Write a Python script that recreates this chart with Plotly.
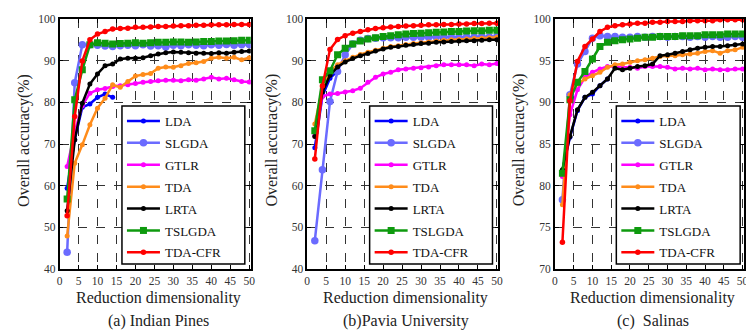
import plotly.graph_objects as go

# ---------------- data ----------------
DIMS = [2, 4, 6, 8, 10, 12, 14, 16, 18, 20, 22, 24, 26, 28, 30, 32, 34, 36, 38, 40, 42, 44, 46, 48, 50]
LDA_DIMS_IP = [2, 4, 6, 8, 10, 12, 14]
LDA_DIMS_PU = [2, 4, 6, 8]
LDA_DIMS_SA = [2, 4, 6, 8, 10, 12, 14]

METHODS = ["LDA", "SLGDA", "GTLR", "TDA", "LRTA", "TSLGDA", "TDA-CFR"]

# (a) Indian Pines
IP_LDA = [59.4, 71.0, 78.8, 79.6, 81.2, 82.0, 81.2]
IP_SLGDA = [44.0, 84.7, 93.8, 93.8, 93.7, 93.5, 93.4, 93.6, 93.7, 93.6, 93.8, 93.5, 93.6,
            93.3, 93.7, 93.6, 93.8, 93.7, 93.6, 93.8, 93.7, 93.9, 93.7, 93.8, 93.9]
IP_GTLR = [64.6, 73.0, 79.2, 82.2, 83.0, 83.3, 83.8, 84.0, 84.2, 84.5, 84.8, 85.0, 85.2,
           85.3, 85.3, 85.2, 85.4, 85.3, 85.6, 86.0, 85.6, 85.8, 85.4, 85.0, 84.9]
IP_TDA = [47.9, 65.4, 69.8, 74.6, 78.6, 81.0, 84.2, 83.6, 85.0, 86.3, 86.7, 86.9, 88.2,
          88.5, 88.4, 88.8, 89.3, 89.5, 89.8, 90.6, 90.8, 90.6, 90.8, 90.2, 90.7]
IP_LRTA = [54.0, 71.0, 79.8, 84.4, 86.8, 88.8, 89.2, 90.4, 90.6, 90.6, 90.7, 91.2, 91.6,
           91.9, 92.1, 92.0, 91.9, 91.8, 91.8, 91.7, 91.9, 91.8, 92.0, 92.2, 92.3]
IP_TSLGDA = [56.8, 80.6, 87.8, 93.8, 94.3, 94.2, 94.0, 94.1, 94.2, 94.3, 94.2, 94.3, 94.4,
             94.4, 94.5, 94.5, 94.4, 94.5, 94.6, 94.6, 94.7, 94.7, 94.8, 94.9, 94.9]
IP_TDACFR = [52.8, 76.6, 89.9, 95.0, 96.4, 97.0, 97.6, 97.7, 97.8, 98.0, 98.0, 98.1, 98.2,
             98.2, 98.3, 98.4, 98.4, 98.5, 98.5, 98.6, 98.6, 98.6, 98.7, 98.7, 98.7]

# (b) Pavia University
PU_LDA = [69.1, 81.5, 85.8, 87.5]
PU_SLGDA = [46.8, 63.8, 80.2, 87.4, 91.4, 94.0, 94.9, 95.3, 95.4, 95.5, 95.5, 95.5, 95.6,
            95.6, 95.6, 95.6, 95.7, 95.7, 95.6, 95.6, 95.7, 95.7, 95.8, 95.7, 95.8]
PU_GTLR = [72.0, 81.4, 82.0, 82.1, 82.5, 82.8, 83.4, 84.8, 86.0, 86.8, 87.2, 87.8, 88.0,
           88.2, 88.3, 88.5, 88.8, 89.0, 89.0, 89.0, 89.0, 88.8, 89.2, 89.0, 89.3]
PU_TDA = [74.8, 83.5, 87.5, 89.0, 90.0, 90.8, 91.5, 92.0, 92.5, 93.0, 93.4, 93.6, 93.9,
          94.1, 94.3, 94.5, 94.7, 94.9, 95.0, 95.1, 95.2, 95.3, 95.4, 95.5, 95.6]
PU_LRTA = [71.8, 82.5, 86.5, 88.5, 89.7, 90.5, 91.2, 91.7, 92.3, 92.8, 93.2, 93.4, 93.7,
           93.9, 94.1, 94.2, 94.4, 94.5, 94.6, 94.7, 94.8, 94.8, 94.9, 95.0, 95.0]
PU_TSLGDA = [73.2, 85.4, 87.6, 91.4, 93.0, 94.0, 94.7, 95.2, 95.5, 95.8, 96.0, 96.2, 96.4,
             96.5, 96.6, 96.7, 96.8, 96.9, 97.0, 97.0, 97.1, 97.2, 97.2, 97.3, 97.3]
PU_TDACFR = [66.4, 83.9, 92.7, 95.1, 96.0, 96.6, 97.0, 97.4, 97.7, 97.9, 98.1, 98.2, 98.3,
             98.4, 98.5, 98.6, 98.6, 98.7, 98.7, 98.8, 98.8, 98.9, 98.9, 99.0, 99.0]

# (c) Salinas
SA_LDA = [81.8, 85.8, 89.0, 90.6, 91.0, 92.0, 92.8]
SA_SLGDA = [78.3, 90.9, 94.6, 96.1, 97.7, 98.0, 97.9, 97.9, 97.8, 97.8, 97.9, 97.8, 97.9,
            97.9, 97.8, 97.9, 97.9, 97.8, 97.9, 97.8, 97.9, 97.8, 97.8, 97.9, 97.8]
SA_GTLR = [81.1, 88.5, 91.5, 93.0, 93.6, 94.0, 94.3, 94.3, 94.2, 94.2, 94.1, 94.3, 94.3,
           94.3, 94.2, 94.0, 94.1, 94.0, 94.1, 93.9, 94.0, 93.9, 93.9, 94.0, 94.0]
SA_TDA = [77.7, 90.9, 92.2, 92.8, 93.2, 93.6, 94.2, 94.5, 94.6, 94.8, 95.0, 95.1, 95.3,
          95.5, 95.6, 95.6, 95.7, 95.8, 95.9, 96.1, 96.2, 95.9, 96.2, 96.3, 96.6]
SA_LRTA = [81.9, 85.9, 89.1, 90.6, 91.2, 92.0, 92.8, 94.1, 93.9, 94.1, 94.3, 94.4, 94.6,
           95.6, 95.7, 95.9, 96.1, 96.3, 96.5, 96.6, 96.7, 96.7, 96.8, 96.9, 97.0]
SA_TSLGDA = [81.5, 90.3, 92.4, 93.7, 95.2, 96.7, 97.2, 97.4, 97.5, 97.6, 97.7, 97.8, 97.8,
             97.9, 97.9, 97.9, 98.0, 98.0, 98.0, 98.1, 98.1, 98.1, 98.2, 98.2, 98.2]
SA_TDACFR = [73.2, 90.2, 94.9, 96.7, 97.6, 98.5, 99.0, 99.2, 99.3, 99.4, 99.5, 99.5, 99.6,
             99.6, 99.7, 99.7, 99.7, 99.8, 99.8, 99.8, 99.8, 99.9, 99.9, 99.9, 99.9]

X_TICKS = [0, 5, 10, 15, 20, 25, 30, 35, 40, 45, 50]
Y_TICKS_AB = [40, 50, 60, 70, 80, 90, 100]
Y_TICKS_C = [70, 75, 80, 85, 90, 95, 100]

CAPTIONS = ["(a) Indian Pines", "(b)Pavia University", "(c)  Salinas"]
X_TITLE = "Reduction dimensionality"
Y_TITLE = "Overall accuracy(%)"

# ---------------- styles ----------------
COLORS = {"LDA": "#0000FF", "SLGDA": "#6B6BFF", "GTLR": "#FF00FF", "TDA": "#FF8C1A",
          "LRTA": "#000000", "TSLGDA": "#0E9A0E", "TDA-CFR": "#FF0000"}
SYMBOLS = {"LDA": "circle", "SLGDA": "circle", "GTLR": "circle", "TDA": "circle",
           "LRTA": "circle", "TSLGDA": "square", "TDA-CFR": "circle"}
MSIZE = {"LDA": 5, "SLGDA": 7.5, "GTLR": 5, "TDA": 5, "LRTA": 5, "TSLGDA": 7, "TDA-CFR": 5.5}

FONT = "Liberation Serif"

panels = [
    (LDA_DIMS_IP, [IP_LDA, IP_SLGDA, IP_GTLR, IP_TDA, IP_LRTA, IP_TSLGDA, IP_TDACFR]),
    (LDA_DIMS_PU, [PU_LDA, PU_SLGDA, PU_GTLR, PU_TDA, PU_LRTA, PU_TSLGDA, PU_TDACFR]),
    (LDA_DIMS_SA, [SA_LDA, SA_SLGDA, SA_GTLR, SA_TDA, SA_LRTA, SA_TSLGDA, SA_TDACFR]),
]

# page has an 8px body margin: work in page pixels, subtract offset
OFF = 8
W, H = 754, 332
PLOT_TOP, PLOT_BOT = 19 - OFF, 269 - OFF
PH = PLOT_BOT - PLOT_TOP
X_DOMAINS = [(57 - OFF, 250 - OFF), (307 - OFF, 500 - OFF), (557 - OFF, 748 - OFF)]
LEGEND_BOX = [(120 - OFF, 244 - OFF), (370 - OFF, 494 - OFF), (619 - OFF, 744 - OFF)]
LEGEND_TOP, LEGEND_BOTTOM = 106 - OFF, 264 - OFF


def py(px):  # page pixel -> paper y
    return 1 - (px - PLOT_TOP) / PH


fig = go.Figure()
for p, (lda_dims, series) in enumerate(panels):
    sfx = "" if p == 0 else str(p + 1)
    for name, vals in zip(METHODS, series):
        xs = lda_dims if name == "LDA" else DIMS
        fig.add_trace(go.Scatter(
            x=xs, y=vals, name=name, mode="lines+markers",
            line=dict(color=COLORS[name], width=2.5),
            marker=dict(color=COLORS[name], size=MSIZE[name], symbol=SYMBOLS[name]),
            xaxis="x" + sfx, yaxis="y" + sfx,
            legend="legend" + sfx, legendgroup=f"{p}{name}",
        ))

layout = dict(
    width=W, height=H,
    margin=dict(l=0, r=0, t=PLOT_TOP, b=H - PLOT_BOT),
    paper_bgcolor="white", plot_bgcolor="white",
    font=dict(family=FONT, color="#222"),
    showlegend=True,
    annotations=[],
    shapes=[],
)

axis_common = dict(
    showline=True, linecolor="black", linewidth=1.5, mirror="ticks",
    ticks="inside", ticklen=4, tickcolor="black", tickwidth=1,
    showgrid=True, gridcolor="#333", griddash="dash", gridwidth=1,
    zeroline=False, tickfont=dict(family=FONT, size=11.5, color="#333"),
)

for p in range(3):
    sfx = "" if p == 0 else str(p + 1)
    x0, x1 = X_DOMAINS[p]
    layout["xaxis" + sfx] = dict(
        axis_common, domain=[x0 / W, x1 / W], range=[0, 50.4],
        tickvals=X_TICKS, anchor="y" + sfx,
    )
    if p < 2:
        layout["yaxis" + sfx] = dict(axis_common, range=[40, 100], tickvals=Y_TICKS_AB,
                                     anchor="x" + sfx)
    else:
        layout["yaxis" + sfx] = dict(axis_common, range=[70, 100], tickvals=Y_TICKS_C,
                                     anchor="x" + sfx)
    lx0, lx1 = LEGEND_BOX[p]
    # legend frame
    layout["shapes"].append(dict(
        type="rect", xref="paper", yref="paper", layer="above",
        x0=lx0 / W, x1=lx1 / W, y0=py(LEGEND_BOTTOM), y1=py(LEGEND_TOP),
        fillcolor="white", line=dict(color="black", width=1.5)))
    layout["legend" + sfx] = dict(
        x=lx0 / W, xanchor="left", y=py(LEGEND_TOP),
        yanchor="top", bgcolor="rgba(0,0,0,0)", borderwidth=0,
        font=dict(family=FONT, size=13, color="#111"), tracegroupgap=2,
        traceorder="grouped", itemwidth=33,
    )
    cx = (x0 + x1) / 2 / W
    layout["annotations"].append(dict(
        text=X_TITLE, xref="paper", yref="paper", x=cx + 0.004, y=-(298 - 269) / PH,
        xanchor="center", yanchor="middle", showarrow=False,
        font=dict(family=FONT, size=16, color="#222")))
    layout["annotations"].append(dict(
        text=CAPTIONS[p], xref="paper", yref="paper", x=cx + 0.004, y=-(321 - 269) / PH,
        xanchor="center", yanchor="middle", showarrow=False,
        font=dict(family=FONT, size=16, color="#222")))
    layout["annotations"].append(dict(
        text=Y_TITLE, xref="paper", yref="paper", x=(x0 - 36) / W, y=0.5 + 4 / PH,
        xanchor="center", yanchor="middle", showarrow=False, textangle=-90,
        font=dict(family=FONT, size=16, color="#222")))

fig.update_layout(**layout)
fig.write_html("out.html")
